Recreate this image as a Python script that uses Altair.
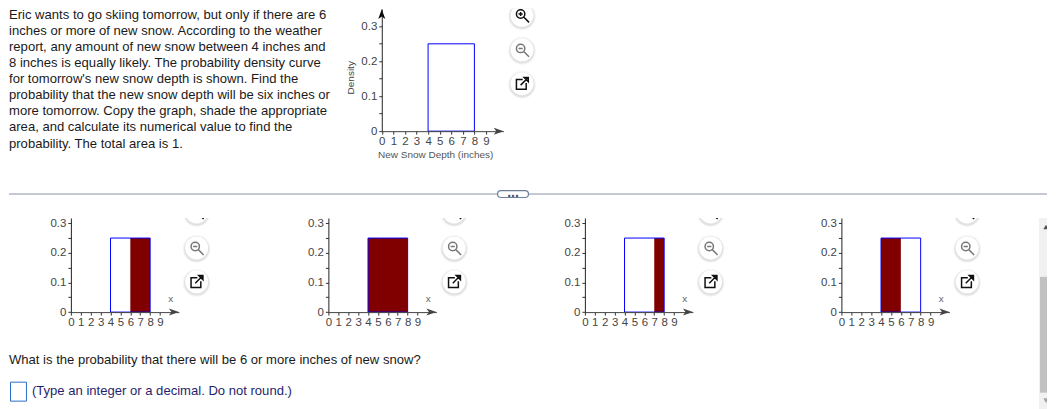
import altair as alt
import pandas as pd

question_lines = [
    "Eric wants to go skiing tomorrow, but only if there are 6",
    "inches or more of new snow. According to the weather",
    "report, any amount of new snow between 4 inches and",
    "8 inches is equally likely. The probability density curve",
    "for tomorrow's new snow depth is shown. Find the",
    "probability that the new snow depth will be six inches or",
    "more tomorrow. Copy the graph, shade the appropriate",
    "area, and calculate its numerical value to find the",
    "probability. The total area is 1.",
]
prompt_text = "What is the probability that there will be 6 or more inches of new snow?"
hint_text = "(Type an integer or a decimal. Do not round.)"
x_ticks = [0, 1, 2, 3, 4, 5, 6, 7, 8, 9]
y_ticks = [0, 0.05, 0.1, 0.15, 0.2, 0.25, 0.3]
density_from = [4]
density_to = [8]
density_height = [0.25]
shade_from = [6, 4, 7, 4]
shade_to = [8, 8, 8, 6]
x_axis_title = "New Snow Depth (inches)"
y_axis_title = "Density"

FONT = "Liberation Sans"
TEXT_SIZE = 13.1
LENS = "M-0.8,-0.2A0.6,0.6 0 1 1 0.4,-0.2A0.6,0.6 0 1 1 -0.8,-0.2Z M0.24,0.24L1,1"
MINUS = " M-0.5,-0.2L0.1,-0.2"
PLUS = " M-0.5,-0.2L0.1,-0.2 M-0.2,-0.5L-0.2,0.1"
POPOUT = "M0.1,-0.6H-0.8V0.8H0.6V-0.1 M-0.2,0.2L0.9,-0.9 M0.3,-0.9H0.9V-0.3Z"
ARROW_R = "M1,0L-1,0.7L-0.5,0L-1,-0.7Z"
ARROW_U = "M0,-1L0.7,1L0,0.5L-0.7,1Z"
ONE = pd.DataFrame({"a": [0]})


def button(px, py, path, colour):
    disc = [
        alt.Chart(ONE).mark_circle(color="#000000", opacity=op, size=s, clip=True).encode(
            x=alt.value(px), y=alt.value(py + 1))
        for s, op in [(780, 0.04), (650, 0.08)]
    ]
    face = alt.Chart(ONE).mark_circle(color="#ffffff", opacity=1, size=530, clip=True).encode(
        x=alt.value(px), y=alt.value(py))
    glyph = alt.Chart(ONE).mark_point(
        shape=path, size=196, filled=False, stroke=colour, strokeWidth=1.5, opacity=1, clip=True
    ).encode(x=alt.value(px), y=alt.value(py))
    return disc + [face, glyph]


def buttons(px, ys, zoom_in_colour="#111111"):
    return (button(px, ys[0], LENS + PLUS, zoom_in_colour)
            + button(px, ys[1], LENS + MINUS, "#777777")
            + button(px, ys[2], POPOUT, "#111111"))


def make_axes(x_offset, y_offset, x_title=None, y_title=None, title_pos=None):
    x_axis = dict(
        values=x_ticks, grid=False, offset=x_offset, orient="bottom", tickSize=3,
        labelPadding=1, labelFontSize=11.5, labelFont=FONT, labelColor="#444444",
        domainColor="#444444", tickColor="#333333", labelOverlap=False, labelFlush=False,
        labelBound=False, zindex=1, title=x_title,
    )
    y_axis = dict(
        values=y_ticks, grid=False, offset=y_offset, orient="left", tickSize=3,
        labelPadding=2, labelFontSize=11.5, labelFont=FONT, labelColor="#444444",
        domainColor="#222222", tickColor="#333333", labelOverlap=False, labelFlush=False,
        labelBound=False, zindex=1, title=y_title,
        labelExpr="round(datum.value*100)%10==0 ? format(datum.value,'.1~f') : ''",
    )
    if title_pos:
        x_axis.update(titleX=title_pos[0], titleY=title_pos[1], titleFont=FONT, titleFontSize=10,
                      titleFontWeight="normal", titleColor="#555555", titleAlign="center",
                      titleBaseline="middle")
        y_axis.update(titleX=title_pos[2], titleY=title_pos[3], titleFont=FONT, titleFontSize=10,
                      titleFontWeight="normal", titleColor="#444444", titleAlign="center",
                      titleBaseline="middle")
    return alt.Axis(**x_axis), alt.Axis(**y_axis)


def density_layers(x_scale, y_scale, x_axis, y_axis, shade=None):
    X = alt.X("x0:Q", scale=x_scale, axis=x_axis)
    Y = alt.Y("h:Q", scale=y_scale, axis=y_axis)
    curve = pd.DataFrame({"x0": density_from, "x1": density_to, "h": density_height, "b": [0]})
    layers = []
    if shade is not None:
        sh = pd.DataFrame({"x0": [shade[0]], "x1": [shade[1]], "h": density_height, "b": [0]})
        layers.append(alt.Chart(sh).mark_rect(fill="#800000", opacity=1).encode(
            x=X, x2="x1:Q", y=Y, y2="b:Q"))
    layers.append(alt.Chart(curve).mark_rect(fill="transparent", stroke="#0000ff", strokeWidth=1).encode(
        x=X, x2="x1:Q", y=Y, y2="b:Q"))
    return layers


def arrow(df, path, colour, x_scale, y_scale, x_axis, y_axis):
    return alt.Chart(df).mark_point(
        shape=path, size=100, filled=True, fill=colour, stroke=colour, strokeWidth=0, opacity=1
    ).encode(
        x=alt.X("x:Q", scale=x_scale, axis=x_axis),
        y=alt.Y("y:Q", scale=y_scale, axis=y_axis),
    )


# question text
q_df = pd.DataFrame({"i": list(range(len(question_lines))), "t": question_lines})
text_panel = alt.Chart(q_df).mark_text(
    align="left", baseline="middle", font=FONT, fontSize=TEXT_SIZE, color="#1a1a1a"
).encode(
    x=alt.value(0),
    y=alt.Y("i:Q", scale=alt.Scale(domain=[0, 8], range=[6.3, 135.5]), axis=None),
    text="t:N",
).properties(width=327, height=177)

# main chart
mx = alt.Scale(domain=[0, 10.5], range=[46.5, 168.3], nice=False, zero=False)
my = alt.Scale(domain=[0, 0.35], range=[123, 0.5], nice=False, zero=False)
max_, may_ = make_axes(-54, -46.5, x_axis_title, y_axis_title, (100, 23, -31, 69))
main_panel = alt.layer(
    *density_layers(mx, my, max_, may_),
    arrow(pd.DataFrame({"x": [10.1], "y": [0]}), ARROW_R, "#444444", mx, my, max_, may_),
    arrow(pd.DataFrame({"x": [0], "y": [0.335]}), ARROW_U, "#000000", mx, my, max_, may_),
    *buttons(187, [7, 41.5, 75.5]),
).properties(width=713, height=177)

# divider
divider = alt.layer(
    alt.Chart(ONE).mark_rule(color="#8a93a8", strokeWidth=1).encode(
        x=alt.value(0), x2=alt.value(1040), y=alt.value(6)),
    alt.Chart(ONE).mark_rect(fill="#ffffff", stroke="#6f7f99", strokeWidth=1.2, cornerRadius=4).encode(
        x=alt.value(489.5), x2=alt.value(520.5), y=alt.value(2.5), y2=alt.value(9.5)),
    alt.Chart(ONE).mark_text(text="...", font=FONT, fontSize=14, fontWeight="bold", color="#3f5273",
                             baseline="alphabetic").encode(
        x=alt.value(505), y=alt.value(8.5)),
).properties(width=1040, height=29)

# small charts
sx = alt.Scale(domain=[0, 10.9], range=[62, 170.2], nice=False, zero=False)
sy = alt.Scale(domain=[0, 0.3178], range=[94.3, 0], nice=False, zero=False)
panel_widths = [258, 257, 257, 260]
panels = []
sax, say = make_axes(-28.7, -62)
for k, pw in enumerate(panel_widths):
    panels.append(alt.layer(
        *density_layers(sx, sy, sax, say, shade=(shade_from[k], shade_to[k])),
        arrow(pd.DataFrame({"x": [10.4], "y": [0]}), ARROW_R, "#444444", sx, sy, sax, say),
        alt.Chart(pd.DataFrame({"x": [10.07], "y": [0.045], "t": ["x"]})).mark_text(
            font=FONT, fontSize=10, color="#666666"
        ).encode(
            x=alt.X("x:Q", scale=sx, axis=sax),
            y=alt.Y("y:Q", scale=sy, axis=say),
            text="t:N",
        ),
        *buttons(188, [-6, 30, 64]),
    ).properties(width=pw, height=123))
row = alt.hconcat(*panels, spacing=0, bounds="flush")

# answer
answer = alt.layer(
    alt.Chart(pd.DataFrame({"t": [prompt_text]})).mark_text(
        align="left", baseline="middle", font=FONT, fontSize=TEXT_SIZE, color="#1a1a1a"
    ).encode(x=alt.value(0), y=alt.value(19), text="t:N"),
    alt.Chart(ONE).mark_rect(fill="#ffffff", stroke="#2b6cc4", strokeWidth=1).encode(
        x=alt.value(1.5), x2=alt.value(17.5), y=alt.value(41.5), y2=alt.value(60.5)),
    alt.Chart(pd.DataFrame({"t": [hint_text]})).mark_text(
        align="left", baseline="middle", font=FONT, fontSize=TEXT_SIZE, color="#1f1f6e"
    ).encode(x=alt.value(23), y=alt.value(50), text="t:N"),
).properties(width=1032, height=69)

# scrollbar (only its left half fits inside the page's right margin)
scroll = alt.layer(
    alt.Chart(ONE).mark_rect(fill="#f1f1f1").encode(
        x=alt.value(0), x2=alt.value(8), y=alt.value(0), y2=alt.value(192)),
    alt.Chart(ONE).mark_rect(fill="#c1c1c1").encode(
        x=alt.value(1), x2=alt.value(8), y=alt.value(59), y2=alt.value(175)),
    alt.Chart(ONE).mark_point(shape="triangle-up", size=28, filled=True, fill="#505050", opacity=1, clip=True).encode(
        x=alt.value(7), y=alt.value(9)),
    alt.Chart(ONE).mark_point(shape="triangle-down", size=28, filled=True, fill="#a3a3a3", opacity=1, clip=True).encode(
        x=alt.value(7), y=alt.value(183)),
).properties(width=8, height=192)

top = alt.hconcat(text_panel, main_panel, spacing=0, bounds="flush")
bottom = alt.hconcat(alt.vconcat(row, answer, spacing=0), scroll, spacing=0)
chart = alt.vconcat(top, divider, bottom, spacing=0).properties(
    padding=0, background="#ffffff"
).configure_view(stroke="transparent", strokeWidth=0).resolve_scale(x="independent", y="independent")

chart.save("out.html", embed_options={"renderer": "svg", "actions": False})
